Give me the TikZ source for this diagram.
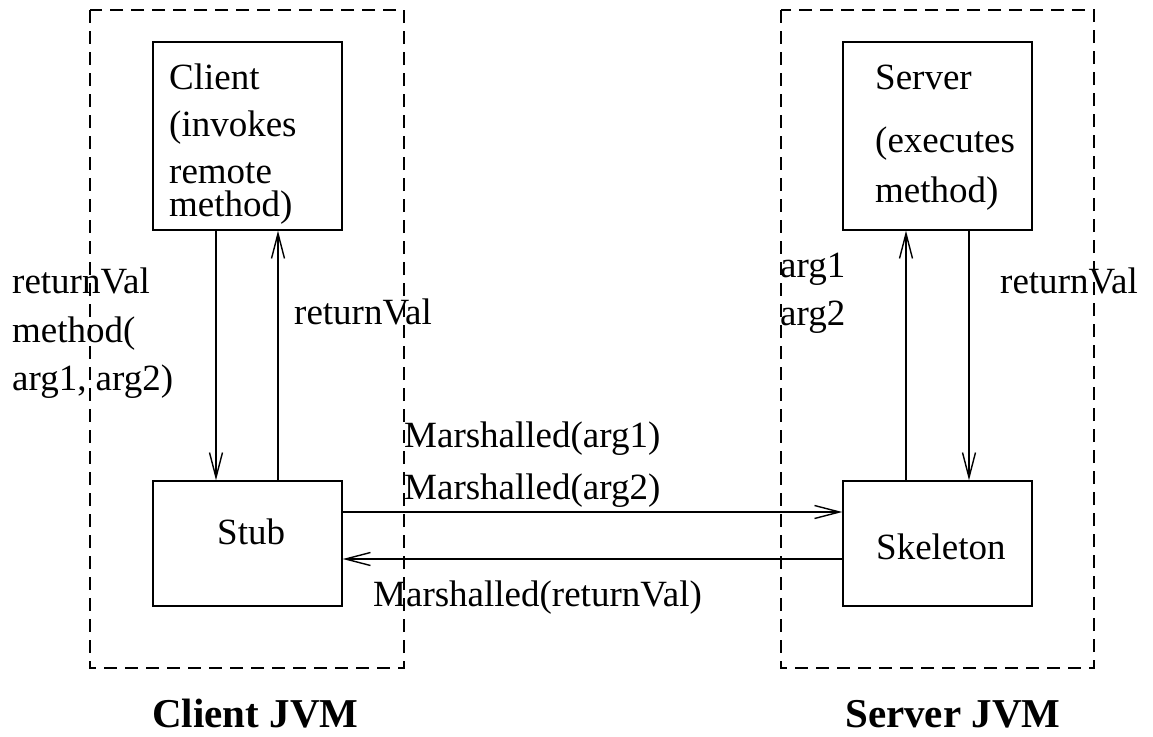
\documentclass[tikz,border=0pt]{standalone}
\usepackage{fontspec}
\setmainfont{Liberation Serif}
\usetikzlibrary{arrows.meta}
\begin{document}
\begin{tikzpicture}[x=1pt,y=-1pt,
  box/.style={draw, line width=1.4pt, minimum width=189pt, inner sep=0pt},
  jvmbox/.style={draw, line width=1.2pt, dash pattern=on 13pt off 8pt},
  lbl/.style={anchor=base west, inner sep=0pt, font=\fontsize{37}{44}\selectfont},
  jvmlbl/.style={anchor=base west, inner sep=0pt, font=\fontsize{41}{48}\selectfont\bfseries},
  conn/.style={line width=1.4pt, -{Straight Barb[length=25pt,width=13pt,line width=1.4pt]}}]
\useasboundingbox (0,0) rectangle (1153,736);

% JVM boundaries
\draw[jvmbox] (90,10) rectangle (404,668);
\draw[jvmbox] (781,10) rectangle (1094,668);

% components
\node[box, minimum height=188pt] (client) at (247.5,136) {};
\node[box, minimum height=188pt] (server) at (937.5,136) {};
\node[box, minimum height=125pt] (stub) at (247.5,543.5) {};
\node[box, minimum height=125pt] (skeleton) at (937.5,543.5) {};

% component texts
\node[lbl] (t1) at (169,89) {Client};
\node[lbl] (t2) at (169,136) {(invokes};
\node[lbl] (t3) at (169,183) {remote};
\node[lbl] (t4) at (169,216) {method)};
\node[lbl] (t5) at (875,89) {Server};
\node[lbl] (t6) at (875,152) {(executes};
\node[lbl] (t7) at (875,202) {method)};
\node[lbl] (t8) at (217,544) {Stub};
\node[lbl] (t9) at (876,559) {Skeleton};

% x positions of the vertical connectors
\coordinate (xa) at (216,0);
\coordinate (xb) at (278,0);
\coordinate (xc) at (906,0);
\coordinate (xd) at (969,0);
% y positions of the horizontal connectors
\coordinate (ya) at (0,512);
\coordinate (yb) at (0,559);

% connectors
\draw[conn] (client.south -| xa) -- (stub.north -| xa);
\draw[conn] (stub.north -| xb) -- (client.south -| xb);
\draw[conn] (skeleton.north -| xc) -- (server.south -| xc);
\draw[conn] (server.south -| xd) -- (skeleton.north -| xd);
\draw[conn] (stub.east |- ya) -- (skeleton.west |- ya);
\draw[conn] (skeleton.west |- yb) -- (stub.east |- yb);

% connector labels
\node[lbl] (l1) at (12,293) {returnVal};
\node[lbl] (l2) at (12,342) {method(};
\node[lbl] (l3) at (12,390) {arg1, arg2)};
\node[lbl] (l4) at (294,324) {returnVal};
\node[lbl] (l5) at (780,277) {arg1};
\node[lbl] (l6) at (780,325) {arg2};
\node[lbl] (l7) at (1000,293) {returnVal};
\node[lbl] (l8) at (404,447) {Marshalled(arg1)};
\node[lbl] (l9) at (404,499) {Marshalled(arg2)};
\node[lbl] (l10) at (373,606) {Marshalled(returnVal)};

% JVM captions
\node[jvmlbl] (cj) at (152,727) {Client JVM};
\node[jvmlbl] (sj) at (845,727) {Server JVM};
\end{tikzpicture}
\end{document}
